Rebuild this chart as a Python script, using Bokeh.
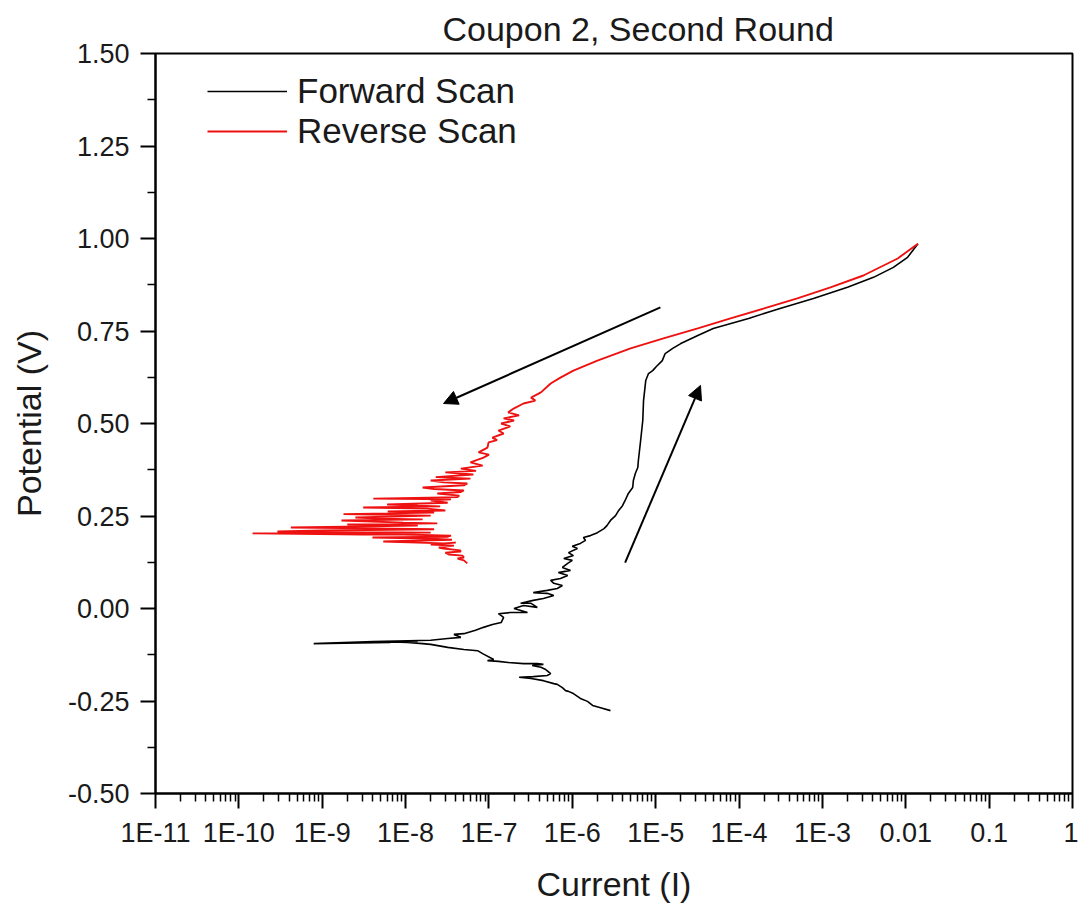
from bokeh.plotting import figure
from bokeh.models import FixedTicker, Legend, LegendItem, Arrow, NormalHead
from bokeh.embed import file_html
from bokeh.resources import INLINE

# Forward scan: current (A) and potential (V), in scan order
fwd_current = [
    2.87e-6, 2.18e-6, 1.75e-6, 1.52e-6, 1.25e-6, 1.03e-6, 9.0e-7, 8.3e-7, 7.6e-7, 6.6e-7,
    6.0e-7, 4.5e-7, 3.2e-7, 2.3e-7, 3.4e-7, 5.0e-7, 5.5e-7, 4.8e-7, 4.2e-7, 3.3e-7,
    4.5e-7, 3.8e-7, 2.6e-7, 1.7e-7, 1.3e-7, 9.6e-8, 1.14e-7, 8.4e-8, 7.3e-8, 5.0e-8,
    3.2e-8, 2.0e-8, 1.6e-8, 1.05e-8, 4.6e-9, 1.4e-8, 3.5e-9, 6.6e-9, 7.9e-10, 4.1e-9,
    2.0e-8, 3.2e-8, 4.6e-8, 3.8e-8, 5.0e-8, 6.9e-8, 8.6e-8, 1.1e-7, 1.4e-7, 1.5e-7,
    1.3e-7, 1.8e-7, 2.9e-7, 2.0e-7, 2.6e-7, 3.8e-7, 3.2e-7, 2.4e-7, 3.4e-7, 4.5e-7,
    6.0e-7, 5.0e-7, 3.4e-7, 5.0e-7, 6.6e-7, 7.6e-7, 6.0e-7, 5.5e-7, 7.2e-7, 8.8e-7,
    6.8e-7, 9.5e-7, 7.6e-7, 8.8e-7, 1.0e-6, 7.9e-7, 1.03e-6, 9.0e-7, 1.15e-6, 1.0e-6,
    1.25e-6, 1.44e-6, 1.36e-6, 1.65e-6, 2.0e-6, 2.4e-6, 2.6e-6, 2.87e-6, 3.3e-6, 3.6e-6,
    4.0e-6, 4.3e-6, 4.7e-6, 5.3e-6, 5.4e-6, 5.7e-6, 6.1e-6, 6.2e-6, 6.6e-6, 7.0e-6,
    7.15e-6, 7.6e-6, 8.2e-6, 9.2e-6, 1.02e-5, 1.2e-5, 1.3e-5, 1.6e-5, 2.0e-5, 3.2e-5,
    4.9e-5, 1.3e-4, 3.1e-4, 7.8e-4, 2.0e-3, 4.1e-3, 7.1e-3, 1.05e-2, 1.4e-2,
]
fwd_potential = [
    -0.276, -0.268, -0.262, -0.251, -0.243, -0.230, -0.224, -0.222, -0.214, -0.205,
    -0.203, -0.195, -0.189, -0.186, -0.184, -0.181, -0.176, -0.165, -0.159, -0.154,
    -0.151, -0.149, -0.149, -0.146, -0.143, -0.141, -0.138, -0.122, -0.114, -0.111,
    -0.105, -0.097, -0.095, -0.092, -0.089, -0.089, -0.092, -0.092, -0.095, -0.089,
    -0.086, -0.081, -0.078, -0.070, -0.068, -0.059, -0.051, -0.043, -0.038, -0.024,
    -0.014, -0.011, -0.011, 0.000, 0.008, 0.003, 0.014, 0.014, 0.022, 0.027,
    0.035, 0.041, 0.043, 0.049, 0.054, 0.062, 0.068, 0.076, 0.081, 0.089,
    0.097, 0.103, 0.111, 0.122, 0.130, 0.135, 0.143, 0.151, 0.162, 0.168,
    0.176, 0.184, 0.192, 0.197, 0.205, 0.216, 0.224, 0.238, 0.251, 0.265,
    0.278, 0.292, 0.311, 0.327, 0.346, 0.365, 0.381, 0.400, 0.454, 0.508,
    0.562, 0.616, 0.635, 0.643, 0.654, 0.670, 0.689, 0.703, 0.716, 0.738,
    0.757, 0.784, 0.811, 0.838, 0.868, 0.895, 0.922, 0.949, 0.986,
]

# Reverse scan: current (A) and potential (V), in scan order
rev_current = [
    1.4e-2, 8.0e-3, 3.1e-3, 1.25e-3, 5.0e-4, 2.0e-4, 7.9e-5, 3.2e-5, 1.24e-5, 5.0e-6,
    2.0e-6, 1.03e-6, 7.2e-7, 5.5e-7, 4.2e-7, 3.2e-7, 3.6e-7, 2.6e-7, 2.0e-7, 1.7e-7,
    2.3e-7, 1.5e-7, 2.0e-7, 1.4e-7, 1.8e-7, 1.3e-7, 1.5e-7, 1.1e-7, 1.25e-7, 9.9e-8,
    9.6e-8, 7.5e-8, 1.0e-7, 8.6e-8, 6.0e-8, 8.4e-8, 4.6e-8, 7.0e-8, 3.0e-8, 6.5e-8,
    2.3e-8, 6.0e-8, 2.0e-8, 2.85e-8, 5.5e-8, 5.0e-8, 1.6e-8, 2.2e-8, 5.0e-8, 4.6e-8,
    2.4e-8, 4.4e-8, 4.2e-8, 4.1e-9, 3.5e-8, 2.0e-8, 3.2e-8, 6.0e-9, 1.4e-8, 2.6e-8,
    3.1e-9, 1.8e-8, 3.0e-8, 6.1e-9, 2.2e-8, 1.8e-9, 2.0e-8, 2.5e-9, 5.0e-9, 1.6e-8,
    1.7e-9, 9.4e-9, 2.4e-8, 2.0e-9, 1.4e-8, 4.2e-10, 7.2e-9, 2.2e-8, 1.0e-9, 2.9e-10,
    2.0e-8, 1.46e-10, 3.1e-9, 9.4e-9, 3.5e-8, 3.2e-8, 4.0e-9, 1.8e-8, 3.6e-8, 5.4e-9,
    2.85e-8, 4.0e-8, 2.0e-8, 3.8e-8, 2.5e-8, 2.85e-8, 4.5e-8, 4.6e-8, 3.0e-8, 3.3e-8,
    4.8e-8, 5.0e-8, 4.2e-8, 5.0e-8, 5.5e-8,
]
rev_potential = [
    0.986, 0.946, 0.900, 0.868, 0.838, 0.811, 0.784, 0.757, 0.730, 0.703,
    0.670, 0.643, 0.624, 0.608, 0.584, 0.570, 0.562, 0.554, 0.541, 0.530,
    0.522, 0.514, 0.508, 0.500, 0.492, 0.481, 0.473, 0.462, 0.455, 0.449,
    0.435, 0.422, 0.416, 0.408, 0.395, 0.386, 0.378, 0.372, 0.368, 0.362,
    0.355, 0.351, 0.346, 0.341, 0.338, 0.333, 0.327, 0.323, 0.319, 0.315,
    0.311, 0.305, 0.301, 0.297, 0.295, 0.292, 0.286, 0.281, 0.278, 0.276,
    0.273, 0.270, 0.265, 0.262, 0.259, 0.255, 0.251, 0.246, 0.243, 0.241,
    0.238, 0.232, 0.230, 0.227, 0.224, 0.219, 0.216, 0.214, 0.211, 0.208,
    0.205, 0.203, 0.200, 0.200, 0.197, 0.194, 0.192, 0.189, 0.186, 0.181,
    0.176, 0.178, 0.173, 0.170, 0.165, 0.162, 0.157, 0.154, 0.151, 0.146,
    0.143, 0.138, 0.135, 0.130, 0.122,
]

# Scan-direction arrows: (current, potential) of tail and tip
rev_arrow_tail = (1.14e-5, 0.814)
rev_arrow_tip = (2.85e-8, 0.554)
fwd_arrow_tail = (4.3e-6, 0.124)
fwd_arrow_tip = (3.45e-5, 0.603)

x_tick_values = [1e-11, 1e-10, 1e-9, 1e-8, 1e-7, 1e-6, 1e-5, 1e-4, 1e-3, 1e-2, 1e-1, 1.0]
x_tick_labels = ["1E-11", "1E-10", "1E-9", "1E-8", "1E-7", "1E-6", "1E-5", "1E-4",
                 "1E-3", "0.01", "0.1", "1"]
y_tick_values = [-0.5, -0.25, 0.0, 0.25, 0.5, 0.75, 1.0, 1.25, 1.5]
y_tick_labels = ["-0.50", "-0.25", "0.00", "0.25", "0.50", "0.75", "1.00", "1.25", "1.50"]

FONT = "Liberation Sans"
INK = "#1a1a1a"

p = figure(width=1078, height=911, x_axis_type="log",
           x_range=(1e-11, 1.0), y_range=(-0.5, 1.5),
           output_backend="svg", toolbar_location=None,
           min_border_left=155, min_border_right=6,
           min_border_top=53, min_border_bottom=118,
           background_fill_color="white", border_fill_color="white")

p.title.text = "Coupon 2, Second Round"
p.title.text_font = FONT
p.title.text_font_size = "34px"
p.title.text_font_style = "normal"
p.title.text_color = INK
p.title.align = "left"
p.title.offset = 287
p.title.standoff = 11

p.xgrid.visible = False
p.ygrid.visible = False
p.outline_line_color = "black"
p.outline_line_width = 2

x_minor = [m * d for d in x_tick_values[:-1] for m in range(2, 10)]
p.xaxis.ticker = FixedTicker(ticks=x_tick_values, minor_ticks=x_minor)
p.xaxis.major_label_overrides = {v: s for v, s in zip(x_tick_values, x_tick_labels)}
y_minor = [v + 0.125 for v in y_tick_values[:-1]]
p.yaxis.ticker = FixedTicker(ticks=y_tick_values, minor_ticks=y_minor)
p.yaxis.major_label_overrides = {v: s for v, s in zip(y_tick_values, y_tick_labels)}

for ax in (p.xaxis, p.yaxis):
    ax.axis_line_width = 2
    ax.axis_line_color = "black"
    ax.major_tick_out = 15
    ax.major_tick_in = 0
    ax.minor_tick_out = 8
    ax.minor_tick_in = 0
    ax.major_tick_line_width = 2
    ax.minor_tick_line_width = 1.5
    ax.major_tick_line_color = "black"
    ax.minor_tick_line_color = "black"
    ax.major_label_text_font = FONT
    ax.major_label_text_font_size = "27px"
    ax.major_label_text_color = INK
    ax.axis_label_text_font = FONT
    ax.axis_label_text_font_size = "34px"
    ax.axis_label_text_font_style = "normal"
    ax.axis_label_text_color = INK

p.xaxis.axis_label = "Current (I)"
p.yaxis.axis_label = "Potential (V)"
p.xaxis.major_label_standoff = 9
p.yaxis.major_label_standoff = 11
p.xaxis.axis_label_standoff = 14
p.yaxis.axis_label_standoff = 17

r_fwd = p.line(fwd_current, fwd_potential, line_color="black", line_width=1.6)
r_rev = p.line(rev_current, rev_potential, line_color="#ee1111", line_width=1.9)

for tail, tip in ((rev_arrow_tail, rev_arrow_tip), (fwd_arrow_tail, fwd_arrow_tip)):
    p.add_layout(Arrow(end=NormalHead(size=14, fill_color="black", line_color="black"),
                       x_start=tail[0], y_start=tail[1], x_end=tip[0], y_end=tip[1],
                       line_color="black", line_width=2))

legend = Legend(items=[LegendItem(label="Forward Scan", renderers=[r_fwd]),
                       LegendItem(label="Reverse Scan", renderers=[r_rev])],
                location=(52, 642), margin=0, padding=0, spacing=0,
                glyph_width=80, glyph_height=40, label_height=40,
                label_standoff=10,
                label_text_font=FONT, label_text_font_size="35px",
                label_text_color=INK,
                border_line_alpha=0, background_fill_alpha=0)
p.add_layout(legend, "center")

open("out.html", "w").write(file_html(p, INLINE))
